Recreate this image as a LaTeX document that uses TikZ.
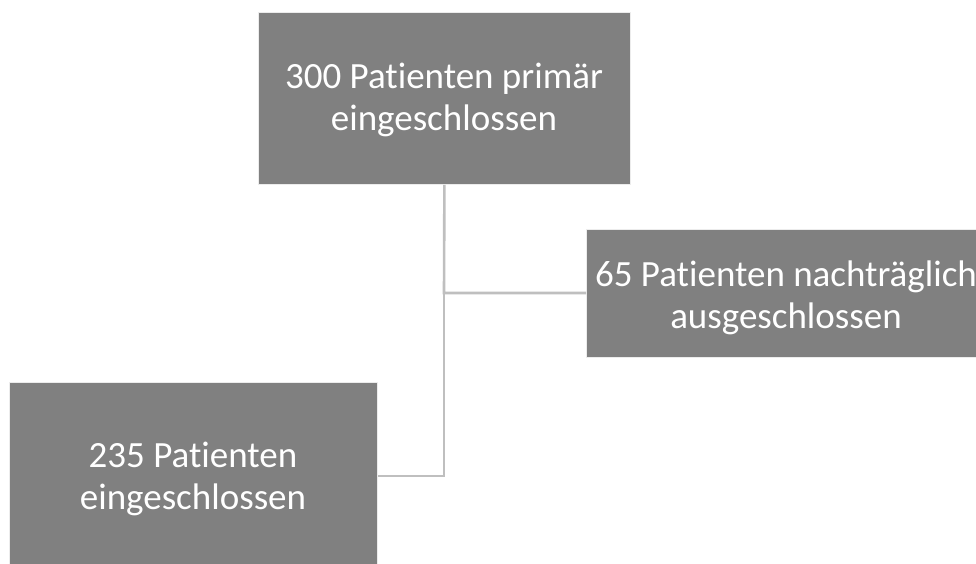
\documentclass[tikz,border=0pt]{standalone}
\usepackage{fontspec}
\setmainfont[RawFeature=-liga]{Carlito}
\definecolor{boxgray}{HTML}{808080}
\definecolor{linegray}{HTML}{BFBFBF}
\tikzset{
  flowbox/.style={fill=boxgray, draw=white!85!boxgray, line width=0.8pt, inner sep=0pt, anchor=north west},
  boxtext/.style={text=white, align=center, font=\fontsize{37}{41.5}\selectfont, inner sep=0pt},
  conn/.style={draw=linegray, line width=2.6pt}
}
\begin{document}
\begin{tikzpicture}[x=1pt,y=-1pt]
\useasboundingbox (0,0) rectangle (976,564);
\clip (0,0) rectangle (976,564);
% boxes
\node[flowbox, minimum width=372pt, minimum height=172pt] (top) at (258,12) {};
\node[flowbox, minimum width=400pt, minimum height=128pt] (right) at (586,229) {};
\node[flowbox, minimum width=368pt, minimum height=190pt] (left) at (9,382) {};
% texts
\node[boxtext] (toptext) at (444,100) {300 Patienten primär\\eingeschlossen};
\node[boxtext] (righttext) at (786,298) {65 Patienten nachträglich\\ausgeschlossen};
\node[boxtext] (lefttext) at (193,479) {235 Patienten\\eingeschlossen};
% connectors
\coordinate (split) at (444,293);
\coordinate (corner) at (444,476);
\draw[conn] (top.south) -- (split) -- (split -| right.west);
\draw[conn] (split) -- (corner) -- (corner -| left.east);
\end{tikzpicture}
\end{document}
